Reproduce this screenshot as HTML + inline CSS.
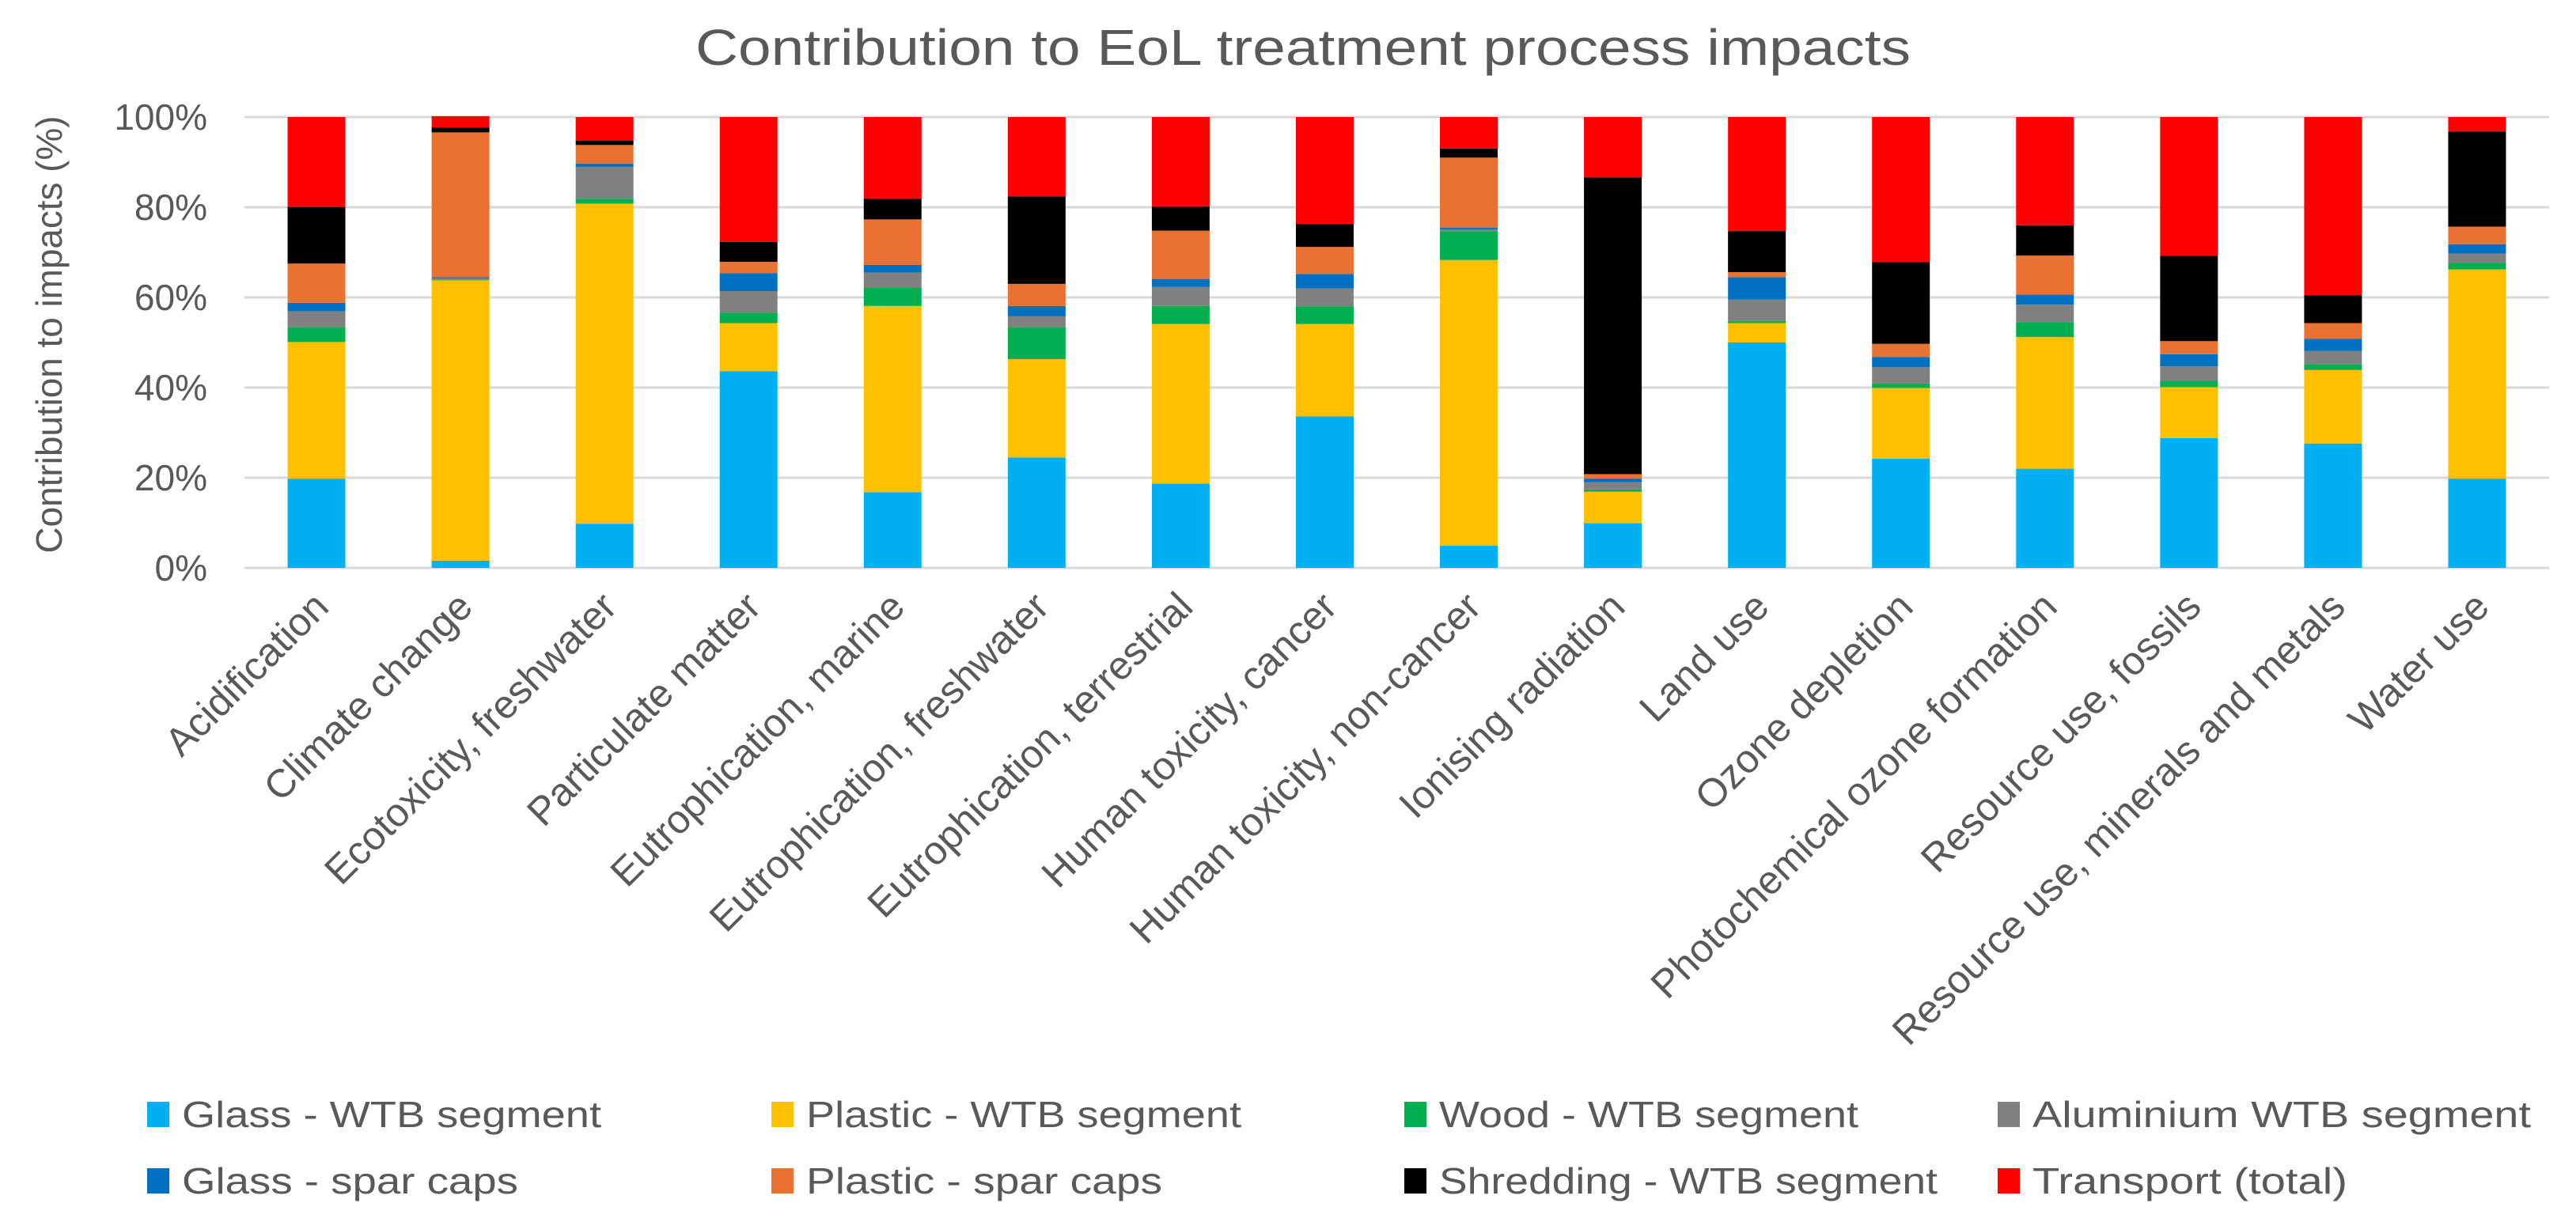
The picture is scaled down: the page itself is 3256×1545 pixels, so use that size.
<!DOCTYPE html>
<html><head><meta charset="utf-8"><style>
html,body{margin:0;padding:0;background:#fff;}
svg{display:block;font-family:"Liberation Sans",sans-serif;}
</style></head><body>
<svg id="chart" width="3256" height="1545" viewBox="0 0 3256 1545" xmlns="http://www.w3.org/2000/svg">
<rect width="3256" height="1545" fill="#fff"/>
<text x="1647" y="82" text-anchor="middle" font-size="64" fill="#595959" textLength="1536" lengthAdjust="spacingAndGlyphs">Contribution to EoL treatment process impacts</text>
<text transform="translate(78,423) rotate(-90)" text-anchor="middle" font-size="46" fill="#595959" textLength="553" lengthAdjust="spacingAndGlyphs">Contribution to impacts (%)</text>
<g id="grid"></g><g id="yticks"></g><g id="bars"></g><g id="xlabels"></g><g id="legend"></g>
</svg>
<script>
const categories = ["Acidification","Climate change","Ecotoxicity, freshwater","Particulate matter","Eutrophication, marine","Eutrophication, freshwater","Eutrophication, terrestrial","Human toxicity, cancer","Human toxicity, non-cancer","Ionising radiation","Land use","Ozone depletion","Photochemical ozone formation","Resource use, fossils","Resource use, minerals and metals","Water use"];
const seriesNames = ["Glass - WTB segment","Plastic - WTB segment","Wood - WTB segment","Aluminium WTB segment","Glass - spar caps","Plastic - spar caps","Shredding - WTB segment","Transport (total)"];
const glassWTB    = [19.8,1.6,9.8,43.6,16.8,24.5,18.7,33.6,4.9,9.9,50,24.2,22,28.8,27.6,19.8];
const plasticWTB  = [30.3,62.2,71,10.7,41.3,21.8,35.4,20.5,63.4,7,4.3,15.7,29.2,11.3,16.3,46.4];
const woodWTB     = [3.3,0.2,1.1,2.3,4,7.1,4,3.9,6.4,0.5,0.5,1,3.3,1.3,1.3,1.5];
const aluWTB      = [3.5,0.3,7,4.8,3.4,2.4,4.2,4,0.4,1.6,4.7,3.6,3.9,3.3,2.9,2];
const glassSpar   = [1.9,0.2,0.8,4,1.7,2.3,1.8,3.2,0.4,0.8,5,2.3,2.2,2.7,2.7,2.1];
const plasticSpar = [8.7,32.1,4.1,2.5,10.1,4.9,10.7,6,15.5,1,1.1,2.9,8.7,2.9,3.5,3.9];
const shredding   = [12.5,1.1,1,4.4,4.6,19.4,5.4,5.1,2,65.8,9.1,18.1,6.7,18.9,6.2,21.1];
const transport   = [20,2.5,5.2,27.7,18.1,17.6,19.8,23.7,7,13.4,25.3,32.2,24,30.8,39.5,3.2];
const yTicks = [0,20,40,60,80,100];
const yTickLabels = ["0%","20%","40%","60%","80%","100%"];

const series = [glassWTB,plasticWTB,woodWTB,aluWTB,glassSpar,plasticSpar,shredding,transport];
const colors = ["#00B0F0","#FFC000","#00B050","#808080","#0070C0","#E97132","#000000","#FF0000"];
const seriesKeys = ["glass-wtb","plastic-wtb","wood-wtb","aluminium-wtb","glass-spar-caps","plastic-spar-caps","shredding-wtb","transport-total"];
const NS="http://www.w3.org/2000/svg";
const X0=309, X1=3222, Y0=718, Y1=148;
const bandW=(X1-X0)/categories.length, barW=73;
function xScale(i){return X0+bandW*(i+0.5);}
function yScale(v){return Y0-(v/100)*(Y0-Y1);}
function mk(tag,parent){const e=document.createElementNS(NS,tag);parent.appendChild(e);return e;}

const grid=document.getElementById('grid'), yt=document.getElementById('yticks');
yTicks.forEach((t,k)=>{
  const l=mk('line',grid);
  
  
  l.setAttribute('x1',X0);l.setAttribute('x2',X1);l.setAttribute('y1',yScale(t));l.setAttribute('y2',yScale(t));
  l.setAttribute('stroke','#D9D9D9');l.setAttribute('stroke-width','3');
  const tx=mk('text',yt);
  
  
  tx.setAttribute('x',262);tx.setAttribute('y',yScale(t)+16);
  tx.setAttribute('text-anchor','end');tx.setAttribute('font-size','46');tx.setAttribute('fill','#595959');
  tx.textContent=yTickLabels[k];
});

const bars=document.getElementById('bars');
categories.forEach((c,i)=>{
  let cum=0;
  series.forEach((s,j)=>{
    const v=s[i];
    const r=mk('rect',bars);
    
    
    r.setAttribute('x',xScale(i)-barW/2);r.setAttribute('width',barW);
    r.setAttribute('y',yScale(cum+v));r.setAttribute('height',yScale(cum)-yScale(cum+v));
    r.setAttribute('fill',colors[j]);
    cum+=v;
  });
});

const xl=document.getElementById('xlabels');
categories.forEach((c,i)=>{
  const t=mk('text',xl);
  
  
  const ax=xScale(i)+18, ay=770;
  t.setAttribute('transform','translate('+ax+','+ay+') rotate(-45)');
  t.setAttribute('text-anchor','end');t.setAttribute('font-size','50');t.setAttribute('fill','#595959');
  t.textContent=c;
});

const lg=document.getElementById('legend');
const legX=[186,975,1775,2525], legRowY=[1393,1477];
const legW=[530,550,530,630,425,450,630,398];
seriesNames.forEach((n,j)=>{
  const col=j%4,row=Math.floor(j/4);
  const g=mk('g',lg);
  
  
  const r=mk('rect',g);
  
  
  r.setAttribute('x',legX[col]);r.setAttribute('y',legRowY[row]);r.setAttribute('width',28);r.setAttribute('height',32);r.setAttribute('fill',colors[j]);
  const t=mk('text',g);
  
  
  t.setAttribute('x',legX[col]+44);t.setAttribute('y',legRowY[row]+32);
  t.setAttribute('font-size','46');t.setAttribute('fill','#595959');
  t.setAttribute('textLength',legW[j]);t.setAttribute('lengthAdjust','spacingAndGlyphs');
  t.textContent=n;
});
</script>
</body></html>
